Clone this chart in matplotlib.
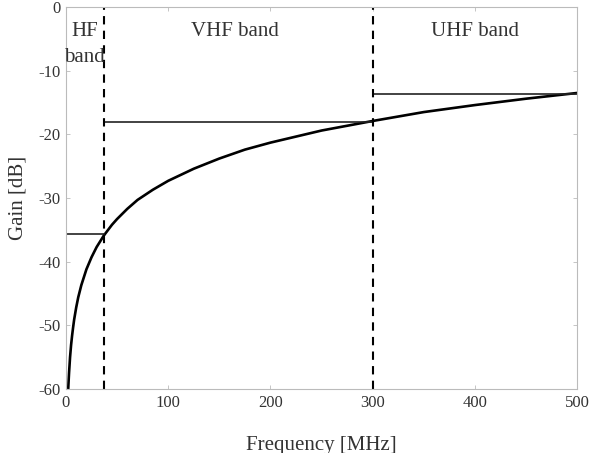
"""Antenna gain versus frequency with HF/VHF/UHF band limits."""

import matplotlib
matplotlib.use("Agg")
import matplotlib.pyplot as plt

# curve
freq_mhz = [2.2, 2.5, 3, 4, 5, 6, 7, 8, 10, 12, 15, 20, 25, 30, 37, 45, 50, 60,
            70, 85, 100, 125, 150, 175, 200, 250, 300, 350, 400, 450, 500]
gain_db = [-60.0, -59.0, -57.5, -55.0, -53.1, -51.6, -50.3, -49.1, -47.2, -45.6,
           -43.7, -41.2, -39.3, -37.7, -35.9, -34.2, -33.3, -31.7, -30.3, -28.7,
           -27.3, -25.4, -23.8, -22.4, -21.3, -19.4, -17.9, -16.5, -15.4, -14.4,
           -13.5]

# band limits and the flat gain level used in each band
band_edges = [0, 37, 300, 500]
band_levels = [-35.6, -18.1, -13.6]
band_names = ["HF\nband", "VHF band", "UHF band"]
band_label_x = [18, 165, 400]

x_ticks = [0, 100, 200, 300, 400, 500]
y_ticks = [0, -10, -20, -30, -40, -50, -60]

plt.rcParams.update({
    "font.family": ["Liberation Serif", "DejaVu Serif"],
    "font.size": 12,
    "axes.unicode_minus": False,
})

fig = plt.figure(figsize=(5.89, 4.53), dpi=100)
ax = fig.add_axes([0.112, 0.1413, 0.868, 0.8432])

ax.plot(freq_mhz, gain_db, color="black", linewidth=1.9, solid_capstyle="butt")

for i, level in enumerate(band_levels):
    ax.plot([band_edges[i], band_edges[i + 1]], [level, level],
            color="#222222", linewidth=1.2)

for edge in band_edges[1:3]:
    ax.axvline(edge, color="black", linestyle=(0, (4, 3)), linewidth=1.5)

for x, name in zip(band_label_x, band_names):
    ax.text(x, -2.4, name, ha="center", va="top", fontsize=15,
            color="#333333", linespacing=1.5)

ax.set_xlim(0, 500)
ax.set_ylim(-60, 0)
ax.set_xticks(x_ticks)
ax.set_yticks(y_ticks)
ax.tick_params(direction="in", length=3, width=0.6, color="#bbbbbb",
               labelcolor="#333333", labelsize=12, top=True, right=True, pad=4)
for spine in ax.spines.values():
    spine.set_color("#bbbbbb")
    spine.set_linewidth(0.8)

ax.set_xlabel("Frequency [MHz]", fontsize=15, color="#333333", labelpad=18)
ax.set_ylabel("Gain [dB]", fontsize=15, color="#333333", labelpad=8)

fig.savefig("out.png", dpi=100)
